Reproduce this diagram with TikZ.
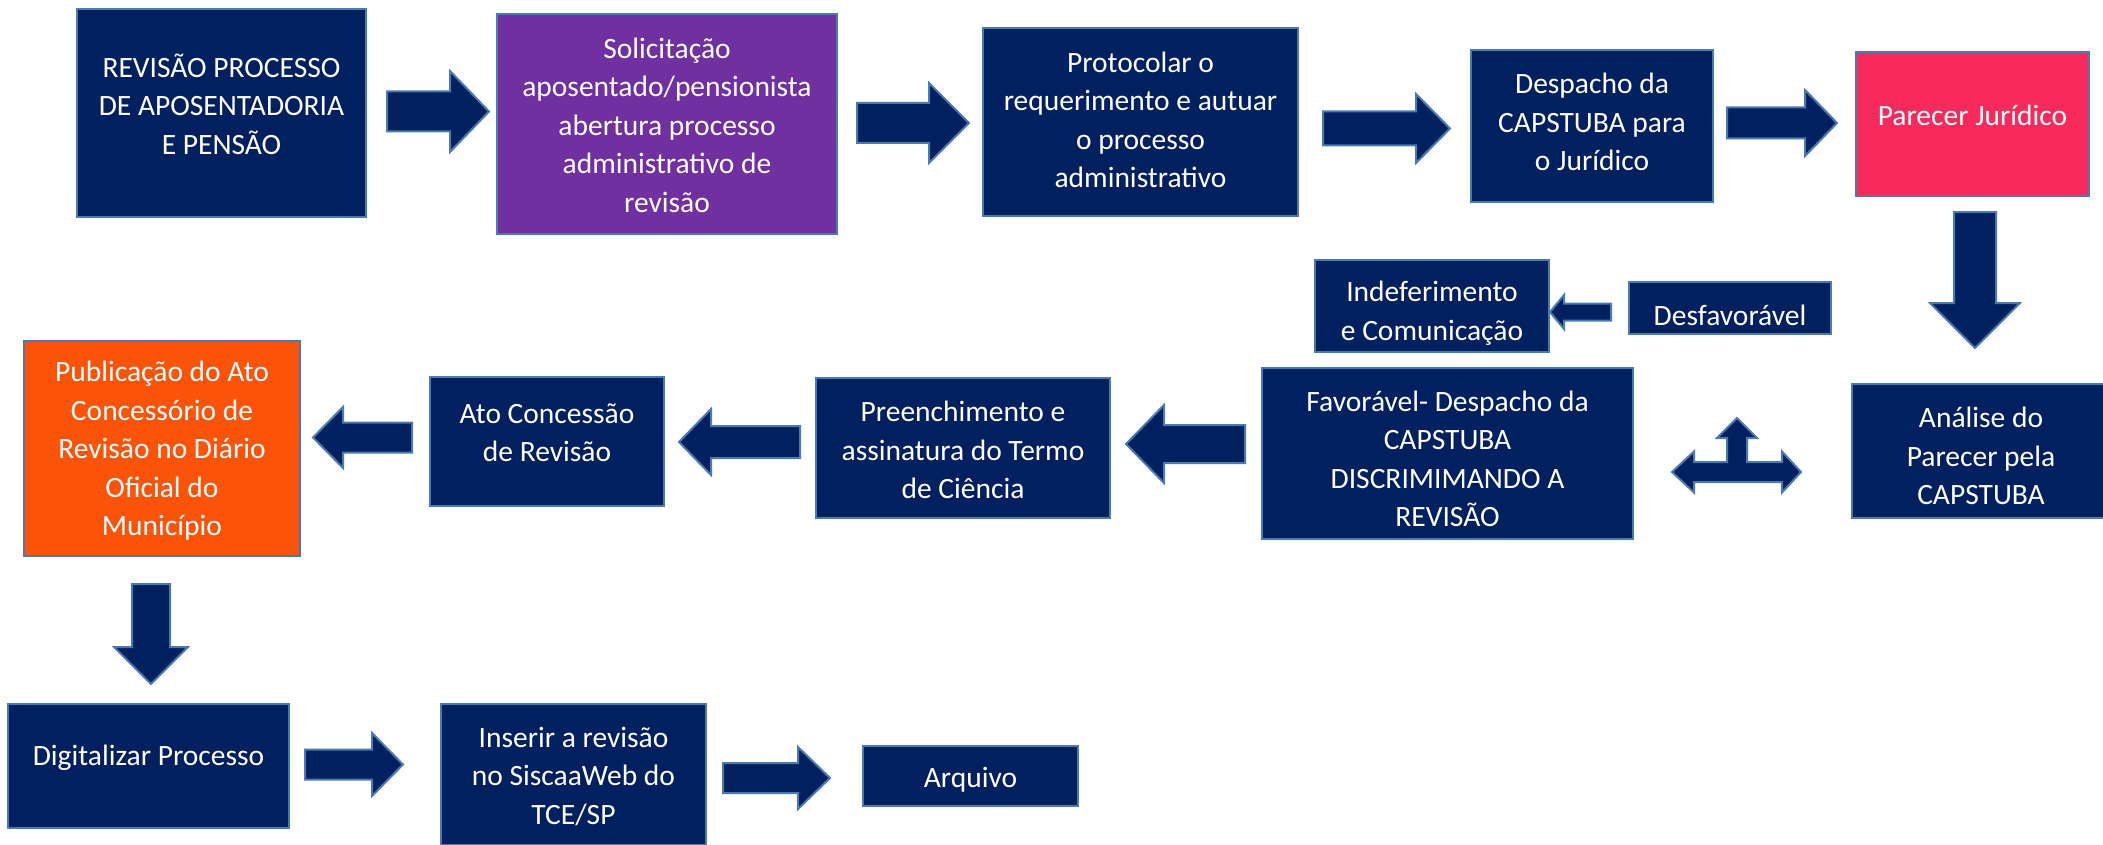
\documentclass[tikz,border=0pt]{standalone}
\usepackage{fontspec}
\setmainfont{Carlito}
\definecolor{navy}{HTML}{002060}
\definecolor{edgeblue}{HTML}{4A7AAE}
\definecolor{violet2}{HTML}{7030A0}
\definecolor{pinkred}{HTML}{F72A5B}
\definecolor{orange2}{HTML}{FB5308}
\newcommand{\arH}[6]{% tail, base, tip, yc, shaft half, head half
  \draw[blk] (#1,#4-#5) -- (#2,#4-#5) -- (#2,#4-#6) -- (#3,#4) -- (#2,#4+#6) -- (#2,#4+#5) -- (#1,#4+#5) -- cycle;}
\newcommand{\arV}[6]{% xc, tail, base, tip, shaft half, head half
  \draw[blk] (#1-#5,#2) -- (#1+#5,#2) -- (#1+#5,#3) -- (#1+#6,#3) -- (#1,#4) -- (#1-#6,#3) -- (#1-#5,#3) -- cycle;}
\begin{document}
\begin{tikzpicture}[x=1pt,y=-1pt,
  box/.style={draw=edgeblue, line width=2.5pt, fill=navy, inner sep=0pt},
  txt/.style={text=white, align=center, font=\fontsize{29.5}{38.5}\selectfont, inner sep=0pt},
  blk/.style={fill=navy, draw=edgeblue, line width=2pt, line join=miter}]
\useasboundingbox (0,0) rectangle (2103,845);
\fill[white] (0,0) rectangle (2103,845);
% row 1
\node[box, minimum width=289pt, minimum height=208pt] (b1) at (221.5,113) {};
\node[txt] (t1) at (221.5,104) {REVISÃO PROCESSO\\DE APOSENTADORIA\\E PENSÃO};
\node[box, fill=violet2, minimum width=340pt, minimum height=220pt] (b2) at (667,124) {};
\node[txt] (t2) at (667,125) {Solicitação\\aposentado/pensionista\\abertura processo\\administrativo de\\revisão};
\node[box, minimum width=315pt, minimum height=188pt] (b3) at (1140.5,122) {};
\node[txt] (t3) at (1140.5,120) {Protocolar o\\requerimento e autuar\\o processo\\administrativo};
\node[box, minimum width=242pt, minimum height=152pt] (b4) at (1592,126) {};
\node[txt] (t4) at (1592,122) {Despacho da\\CAPSTUBA para\\o Jurídico};
\node[box, fill=pinkred, minimum width=233pt, minimum height=144pt] (b5) at (1972.5,124) {};
\node[txt] (t5) at (1972.5,115) {Parecer Jurídico};
% row 2 right part
\node[box, minimum width=258pt, minimum height=134pt] (b6) at (1981,451) {};
\node[txt] (t6) at (1981,456) {Análise do\\Parecer pela\\CAPSTUBA};
\node[box, minimum width=202pt, minimum height=52pt] (b7) at (1730,308) {};
\node[txt] (t7) at (1730,315) {Desfavorável};
\node[box, minimum width=234pt, minimum height=92pt] (b8) at (1432,306) {};
\node[txt] (t8) at (1432,313) {Indeferimento\\e Comunicação};
\node[box, minimum width=371pt, minimum height=171pt] (b9) at (1447.5,453.5) {};
\node[txt] (t9) at (1447.5,459) {Favorável- Despacho da\\CAPSTUBA\\DISCRIMIMANDO A\\REVISÃO};
\node[box, minimum width=294pt, minimum height=140pt] (b10) at (963,448) {};
\node[txt] (t10) at (963,450) {Preenchimento e\\assinatura do Termo\\de Ciência};
\node[box, minimum width=234pt, minimum height=129pt] (b11) at (547,441.5) {};
\node[txt] (t11) at (547,433) {Ato Concessão\\de Revisão};
\node[box, fill=orange2, minimum width=276pt, minimum height=215pt] (b12) at (162,448.5) {};
\node[txt] (t12) at (162,451) {Publicação do Ato\\Concessório de\\Revisão no Diário\\Oficial do\\Município};
% row 3
\node[box, minimum width=281pt, minimum height=124pt] (b13) at (148.5,766) {};
\node[txt] (t13) at (148.5,758) {Digitalizar Processo};
\node[box, minimum width=265pt, minimum height=141pt] (b14) at (573.5,774.5) {};
\node[txt] (t14) at (573.5,776) {Inserir a revisão\\no SiscaaWeb do\\TCE/SP};
\node[box, minimum width=215pt, minimum height=60pt] (b15) at (970.5,776) {};
\node[txt] (t15) at (970.5,780) {Arquivo};
% block arrows row 1
\arH{387}{450}{489}{111.5}{20}{40.5}
\arH{857}{929}{969}{123}{20}{40}
\arH{1323}{1416}{1450}{128.5}{17}{34.5}
\arH{1727}{1805}{1837}{123}{15.5}{33}
\arV{1975}{212}{303}{348}{21}{45}
% desfavoravel -> indeferimento
\arH{1611}{1564}{1550}{312}{8.5}{17}
% three-way arrow
\draw[blk] (1672,472) -- (1694,451.5) -- (1694,462) -- (1727,462) -- (1727,438) -- (1717,438) -- (1737,418) -- (1757,438) -- (1747,438) -- (1747,462) -- (1782,462) -- (1782,451.5) -- (1801,472) -- (1782,492.5) -- (1782,482) -- (1694,482) -- (1694,492.5) -- cycle;
% row 2 left arrows
\arH{1245}{1164}{1126}{444}{19}{39}
\arH{800}{711}{679}{442}{16}{33}
\arH{412}{343}{313}{437.5}{15}{30.5}
\arV{151}{584}{647}{684}{19}{37}
% row 3
\arH{305}{372}{403}{764.5}{15}{31.5}
\arH{723}{798}{830}{778}{15}{31}
\end{tikzpicture}
\end{document}
